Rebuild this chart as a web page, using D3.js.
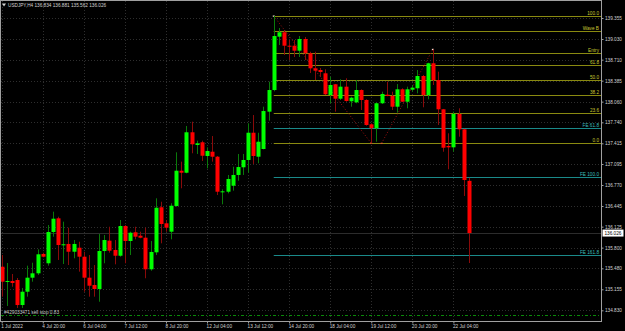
<!DOCTYPE html>
<html>
<head>
<meta charset="utf-8">
<script src="https://cdn.jsdelivr.net/npm/d3@7"></script>
<style>
  html, body { margin: 0; padding: 0; background: #000; }
  svg { display: block; font-family: "Liberation Sans", Arial, sans-serif; }
</style>
</head>
<body>
<div id="chart"></div>
<script>
const width = 625
const height = 331
const plot = { left: 1, top: 1, right: 601, bottom: 321 }

// USDJPY H4 candles, 1 Jul 16:00 .. 22 Jul 16:00
const opens = [
  135.505, 135.273, 135.284, 135.299, 134.912, 135.118, 135.335, 135.403, 135.702, 135.558,
  136.042, 136.254, 135.846, 135.857, 135.737, 135.799, 135.660, 135.335, 135.222, 135.160,
  135.748, 135.908, 135.764, 135.675, 136.135, 135.903, 136.038, 135.985, 135.954, 135.465,
  135.728, 136.425, 136.177, 136.047, 136.445, 136.991, 136.960, 137.586, 137.389, 137.431,
  137.219, 137.285, 137.208, 136.666, 136.666, 136.759, 136.925, 137.044, 137.157, 137.579,
  137.208, 137.327, 137.905, 138.240, 139.066, 139.134, 138.926, 138.926, 138.849, 139.030,
  138.809, 138.576, 138.550, 138.499, 138.163, 138.329, 138.106, 138.292, 138.066, 138.050,
  138.240, 138.086, 137.709, 137.648, 138.035, 138.168, 138.148, 137.982, 138.251, 138.059,
  138.245, 138.267, 138.457, 138.163, 138.654, 138.395, 137.942, 137.374, 137.353, 137.869,
  137.632, 136.834
]
const highs = [
  135.686, 135.562, 135.392, 135.330, 135.175, 135.521, 135.567, 135.774, 135.722, 136.151,
  136.357, 136.279, 136.202, 136.109, 135.918, 135.892, 135.737, 135.686, 135.531, 136.011,
  135.996, 136.124, 135.918, 136.228, 136.151, 136.047, 136.124, 136.047, 136.109, 135.903,
  136.564, 136.511, 136.228, 136.487, 137.276, 137.131, 137.683, 137.750, 137.456, 137.456,
  137.353, 137.528, 137.219, 136.703, 136.925, 137.053, 137.250, 137.250, 137.725, 137.853,
  137.579, 137.982, 138.369, 139.386, 139.200, 139.169, 139.014, 139.014, 139.076, 139.061,
  138.833, 138.833, 138.581, 138.561, 138.446, 138.334, 138.406, 138.422, 138.137, 138.395,
  138.251, 138.097, 137.725, 138.044, 138.214, 138.369, 138.214, 138.333, 138.267, 138.292,
  138.318, 138.550, 138.473, 138.663, 138.870, 138.524, 137.947, 137.570, 137.905, 137.957,
  137.640, 136.881
]
const lows = [
  135.041, 134.897, 135.195, 134.866, 134.866, 135.041, 135.273, 135.377, 135.651, 135.521,
  135.970, 135.609, 135.547, 135.531, 135.635, 135.428, 135.118, 135.041, 135.041, 134.963,
  135.558, 135.722, 135.542, 135.660, 135.558, 135.686, 135.929, 135.945, 135.326, 135.443,
  135.686, 135.867, 136.047, 135.929, 136.434, 136.719, 136.951, 137.261, 137.250, 137.141,
  137.028, 137.131, 136.615, 136.471, 136.641, 136.682, 136.836, 136.925, 136.960, 137.095,
  137.106, 137.322, 137.765, 138.220, 138.937, 138.782, 138.705, 138.751, 138.751, 138.705,
  138.504, 138.395, 138.442, 138.163, 138.035, 137.905, 138.086, 138.059, 137.982, 138.035,
  137.931, 137.688, 137.415, 137.440, 138.024, 138.143, 137.931, 137.889, 138.055, 137.957,
  138.214, 138.189, 137.973, 138.096, 138.318, 137.699, 137.285, 137.013, 137.285, 137.518,
  136.600, 135.562
]
const closes = [
  135.273, 135.284, 135.253, 134.912, 135.118, 135.335, 135.403, 135.697, 135.660, 136.042,
  136.248, 135.841, 135.852, 135.737, 135.857, 135.660, 135.335, 135.211, 135.160, 135.748,
  135.918, 135.753, 135.675, 136.135, 135.903, 136.031, 135.970, 135.954, 135.465, 135.733,
  136.418, 136.166, 136.109, 136.449, 136.991, 136.960, 137.586, 137.400, 137.415, 137.223,
  137.296, 137.208, 136.666, 136.672, 136.863, 136.925, 137.048, 137.157, 137.579, 137.219,
  137.440, 137.915, 138.240, 139.076, 139.134, 138.926, 138.915, 138.849, 139.030, 138.809,
  138.576, 138.539, 138.519, 138.174, 138.318, 138.106, 138.292, 138.070, 138.121, 138.240,
  138.086, 137.699, 137.648, 138.035, 138.179, 138.148, 137.982, 138.251, 138.059, 138.251,
  138.276, 138.457, 138.163, 138.654, 138.395, 137.942, 137.347, 137.353, 137.869, 137.632,
  136.847, 136.026
]

const timeLabels = ["1 Jul 2022", "4 Jul 20:00", "6 Jul 04:00", "7 Jul 12:00", "8 Jul 20:00",
  "12 Jul 04:00", "13 Jul 12:00", "14 Jul 20:00", "18 Jul 04:00", "19 Jul 12:00",
  "20 Jul 20:00", "22 Jul 04:00"]
const barsPerLabel = 8
const priceTicks = [139.355, 139.030, 138.710, 138.385, 138.060, 137.740, 137.415, 137.095,
  136.770, 136.445, 136.125, 135.800, 135.480, 135.155, 134.830]

// fibo retracement: swing high (bar 53) -> swing low (bar 72)
const fiboAnchor = { bar: 53, high: 139.386, low: 137.415 }
const fiboRatios = [1.0, 0.886, 0.707, 0.618, 0.5, 0.382, 0.236, 0.0]
const fiboNames = ["100.0", "Wave B", "Entry", "61.8", "50.0", "38.2", "23.6", "0.0"]
// fibo expansion A-B-C
const feC = 138.870
const feRatios = [0.618, 1.0, 1.618]
const feNames = ["FE 61.8", "FE 100.0", "FE 161.8"]
// zigzag legs [bar, price]
const legs = [
  [[53, 139.386], [72, 137.415]],
  [[74, 137.415], [84, 138.870]]
]
const sellStop = 134.757
const bid = 136.026
const fontSize = "4.7px"

const n = closes.length
var xScale = d3.scaleLinear([0, n - 1], [1.7, 468.8])
var yScale = d3.scaleLinear([134.6646, 139.6336], [plot.bottom, plot.top - 1])

function drawChart() {
  var svg = d3.select("#chart").append("svg")
    .attr("width", width).attr("height", height)

  svg.append("rect").attr("width", width).attr("height", height).attr("fill", "#000")

  // grid
  var grid = svg.append("g").attr("id", "grid")
    .style("stroke", "#2e2e2e").style("stroke-dasharray", "1,2")
  grid.selectAll("line.h").data(priceTicks).enter().append("line")
    .attr("x1", plot.left).attr("x2", plot.right)
    .attr("y1", (d) => Math.round(yScale(d)) + 0.5)
    .attr("y2", (d) => Math.round(yScale(d)) + 0.5)
  grid.selectAll("line.v").data(timeLabels).enter().append("line")
    .attr("x1", (_d, i) => Math.round(xScale(i * barsPerLabel)) + 0.5)
    .attr("x2", (_d, i) => Math.round(xScale(i * barsPerLabel)) + 0.5)
    .attr("y1", plot.top).attr("y2", plot.bottom)

  // bid line
  svg.append("line")
    .attr("x1", plot.left).attr("x2", plot.right)
    .attr("y1", Math.round(yScale(bid)) + 0.5).attr("y2", Math.round(yScale(bid)) + 0.5)
    .style("stroke", "#2c2c2c")

  // fibo retracement levels
  var range = fiboAnchor.high - fiboAnchor.low
  var fibo = svg.append("g").attr("id", "fibo")
  fiboRatios.forEach((r, i) => {
    var y = Math.round(yScale(fiboAnchor.low + r * range)) + 0.5
    fibo.append("line")
      .attr("x1", xScale(fiboAnchor.bar)).attr("x2", plot.right)
      .attr("y1", y).attr("y2", y)
      .style("stroke", "#8a8a10")
    fibo.append("text")
      .attr("x", plot.right - 2).attr("y", y - 1.5)
      .attr("text-anchor", "end")
      .style("font-size", fontSize).style("fill", "#c8c832")
      .text(fiboNames[i])
  })

  // fibo expansion levels
  feRatios.forEach((r, i) => {
    var y = Math.round(yScale(feC - r * range)) + 0.5
    fibo.append("line")
      .attr("x1", xScale(fiboAnchor.bar)).attr("x2", plot.right)
      .attr("y1", y).attr("y2", y)
      .style("stroke", "#1a8a8a")
    fibo.append("text")
      .attr("x", plot.right - 2).attr("y", y - 1.5)
      .attr("text-anchor", "end")
      .style("font-size", fontSize).style("fill", "#3cbcbc")
      .text(feNames[i])
  })

  // zigzag legs
  var zz = svg.append("g").attr("id", "legs")
  zz.selectAll("line").data(legs).enter().append("line")
    .attr("x1", (d) => xScale(d[0][0])).attr("y1", (d) => yScale(d[0][1]))
    .attr("x2", (d) => xScale(d[1][0])).attr("y2", (d) => yScale(d[1][1]))
    .style("stroke", "#a01010").style("stroke-dasharray", "1,2")

  // candles
  var idx = d3.range(n)
  var candles = svg.append("g").attr("id", "candles")
  candles.selectAll("line").data(idx).enter().append("line")
    .attr("x1", (i) => Math.round(xScale(i)) + 0.5)
    .attr("x2", (i) => Math.round(xScale(i)) + 0.5)
    .attr("y1", (i) => yScale(highs[i]))
    .attr("y2", (i) => yScale(lows[i]))
    .style("stroke", (i) => closes[i] >= opens[i] ? "#0a7a0a" : "#8a0a0a")
  candles.selectAll("rect").data(idx).enter().append("rect")
    .attr("x", (i) => Math.round(xScale(i)) - 1.5)
    .attr("width", 4)
    .attr("y", (i) => yScale(Math.max(opens[i], closes[i])))
    .attr("height", (i) => Math.max(1, Math.abs(yScale(opens[i]) - yScale(closes[i]))))
    .style("fill", (i) => closes[i] >= opens[i] ? "#00ff00" : "#ff0000")

  // leg end markers
  var ends = legs.flat()
  zz.selectAll("rect").data(ends).enter().append("rect")
    .attr("x", (d) => xScale(d[0]) - 1).attr("y", (d) => yScale(d[1]) - 0.5)
    .attr("width", 2).attr("height", 1.2)
    .style("fill", (d, i) => (i === 0 || i === 3) ? "#f0e0d0" : "#d06030")

  // sell stop line
  var ys = Math.round(yScale(sellStop)) + 0.5
  svg.append("line")
    .attr("x1", plot.left).attr("x2", plot.right).attr("y1", ys).attr("y2", ys)
    .style("stroke", "#0a8a0a").style("stroke-dasharray", "3,2,1,2")
  svg.append("text").attr("x", 4).attr("y", ys - 2)
    .style("font-size", fontSize).style("fill", "#c8c8c8")
    .text("#429033471 sell stop 0.83")

  // frame
  svg.append("rect")
    .attr("x", plot.left - 0.5).attr("y", plot.top - 0.5)
    .attr("width", plot.right - plot.left + 1).attr("height", plot.bottom - plot.top + 1)
    .style("fill", "none").style("stroke", "#a0a0a0")

  // price axis
  var yAxis = d3.axisRight(yScale).tickValues(priceTicks).tickFormat(d3.format(".3f"))
    .tickSize(2).tickPadding(1.5)
  svg.append("g").attr("id", "yaxis")
    .attr("transform", `translate(${plot.right + 0.5},0)`)
    .call(yAxis)
    .call((g) => g.select(".domain").remove())
    .call((g) => g.selectAll("line").style("stroke", "#a0a0a0"))
    .call((g) => g.selectAll("text").style("font-size", fontSize).style("fill", "#d0d0d0")
      .style("font-family", "Liberation Sans, Arial, sans-serif"))

  // bid label
  var yb = yScale(bid)
  svg.append("rect").attr("x", plot.right + 1.5).attr("y", yb - 3.5)
    .attr("width", 21).attr("height", 7).style("fill", "#ffffff")
  svg.append("text").attr("x", plot.right + 3.5).attr("y", yb + 1.7)
    .style("font-size", fontSize).style("fill", "#000").text(d3.format(".3f")(bid))

  // time axis
  var xAxis = d3.axisBottom(xScale)
    .tickValues(timeLabels.map((_d, i) => i * barsPerLabel))
    .tickFormat((_d, i) => timeLabels[i]).tickSize(2).tickPadding(1)
  svg.append("g").attr("id", "xaxis")
    .attr("transform", `translate(0,${plot.bottom + 0.5})`)
    .call(xAxis)
    .call((g) => g.select(".domain").remove())
    .call((g) => g.selectAll("line").style("stroke", "#a0a0a0"))
    .call((g) => g.selectAll("text").attr("text-anchor", "start").attr("dx", -1)
      .style("font-size", fontSize).style("fill", "#d0d0d0")
      .style("font-family", "Liberation Sans, Arial, sans-serif"))

  // header
  svg.append("path").attr("d", "M2,3.5 L6,3.5 L4,6.5 Z").style("fill", "#d0d0d0")
  svg.append("text").attr("x", 8).attr("y", 7)
    .style("font-size", fontSize).style("fill", "#d0d0d0")
    .text("USDJPY,H4 136.834 136.881 135.562 136.026")
}

drawChart()
</script>
</body>
</html>
